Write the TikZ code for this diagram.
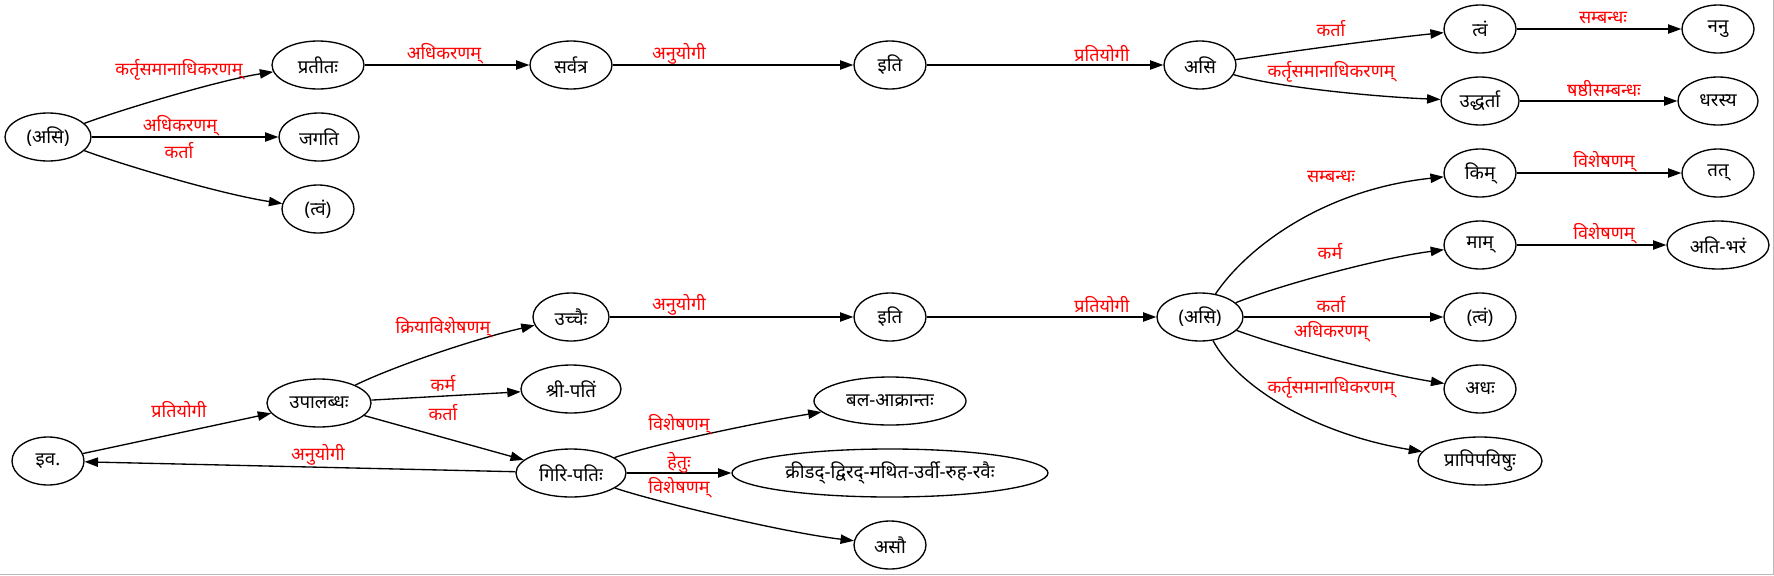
\documentclass[tikz,border=0pt]{standalone}
\usepackage{fontspec}
\newfontfamily\deva[Script=Devanagari]{Noto Sans}
\usetikzlibrary{arrows.meta,shapes.geometric}
\tikzset{
  nd/.style={draw, ellipse, line width=1pt, inner sep=0pt, minimum height=36pt,
             minimum width=#1*1.5pt, font=\deva\fontsize{14}{16}\selectfont},
  lb/.style={text=red, inner sep=0pt, font=\deva\fontsize{13.5}{15}\selectfont},
  ed/.style={draw, line width=1pt, -{Triangle[length=10pt,width=7pt]}},
}
\begin{document}
\begin{tikzpicture}[x=0.75pt, y=-0.75pt]
\useasboundingbox (0,0) rectangle (1774,575);
\fill[white] (0,0) rectangle (1774,575);
\draw[gray!55, line width=0.9pt] (0,574.4) -- (1773.4,574.4) -- (1773.4,0);
% ---- nodes ----
\node[nd=43] (asiA) at (48,137) {(असि)};
\node[nd=46] (pratitah) at (318,65) {प्रतीतः};
\node[nd=40] (jagati) at (319,137) {जगति};
\node[nd=36] (tvamA) at (318,209) {(त्वं)};
\node[nd=41] (sarvatra) at (571,65) {सर्वत्र};
\node[nd=36] (itiA) at (890,65) {इति};
\node[nd=36] (asiB) at (1200,65) {असि};
\node[nd=36] (tvam) at (1480,29) {त्वं};
\node[nd=36] (nanu) at (1718,29) {ननु};
\node[nd=39] (uddharta) at (1480,101) {उद्धर्ता};
\node[nd=40] (dharasya) at (1718,101) {धरस्य};
\node[nd=36] (kim) at (1480,173) {किम्};
\node[nd=36] (tat) at (1718,173) {तत्};
\node[nd=36] (mam) at (1480,245) {माम्};
\node[nd=51] (atibharam) at (1718,245) {अति-भरं};
\node[nd=43] (asiC) at (1200,317) {(असि)};
\node[nd=36] (tvamC) at (1480,317) {(त्वं)};
\node[nd=36] (adhah) at (1480,389) {अधः};
\node[nd=62] (prapi) at (1480,461) {प्रापिपयिषुः};
\node[nd=36] (iva) at (48,461) {इव.};
\node[nd=52] (upal) at (319,403) {उपालब्धः};
\node[nd=38] (uccaih) at (571,317) {उच्चैः};
\node[nd=50] (shri) at (571,389) {श्री-पतिं};
\node[nd=55] (giri) at (571,473) {गिरि-पतिः};
\node[nd=36] (itiB) at (890,317) {इति};
\node[nd=76] (bala) at (890,401) {बल-आक्रान्तः};
\node[nd=158] (krid) at (890,473) {क्रीडद्-द्विरद्-मथित-उर्वी-रुह-रवैः};
\node[nd=36] (asau) at (890,545) {असौ};
% ---- edges ----
\path[ed] (asiA) .. controls (120,110) and (220,80) .. (pratitah);
\path[ed] (asiA) -- (jagati);
\path[ed] (asiA) .. controls (120,164) and (220,194) .. (tvamA);
\path[ed] (pratitah) -- (sarvatra);
\path[ed] (sarvatra) -- (itiA);
\path[ed] (itiA) -- (asiB);
\path[ed] (asiB) .. controls (1300,50) and (1390,38) .. (tvam);
\path[ed] (asiB) .. controls (1280,88) and (1380,97) .. (uddharta);
\path[ed] (tvam) -- (nanu);
\path[ed] (uddharta) -- (dharasya);
\path[ed] (kim) -- (tat);
\path[ed] (mam) -- (atibharam);
\path[ed] (asiC) .. controls (1245,250) and (1320,190) .. (kim);
\path[ed] (asiC) .. controls (1280,285) and (1380,258) .. (mam);
\path[ed] (asiC) -- (tvamC);
\path[ed] (asiC) .. controls (1290,350) and (1390,375) .. (adhah);
\path[ed] (asiC) .. controls (1240,390) and (1320,435) .. (prapi);
\path[ed] (iva) -- (upal);
\path[ed] (giri) -- (iva);
\path[ed] (upal) .. controls (390,368) and (470,340) .. (uccaih);
\path[ed] (upal) -- (shri);
\path[ed] (upal) -- (giri);
\path[ed] (uccaih) -- (itiB);
\path[ed] (itiB) -- (asiC);
\path[ed] (giri) .. controls (650,445) and (760,422) .. (bala);
\path[ed] (giri) -- (krid);
\path[ed] (giri) .. controls (650,500) and (780,532) .. (asau);
% ---- labels ----
\node[lb] (l1) at (179,70) {कर्तृसमानाधिकरणम्};
\node[lb] (l2) at (180,126) {अधिकरणम्};
\node[lb] (l3) at (179,151) {कर्ता};
\node[lb] (l4) at (444,54) {अधिकरणम्};
\node[lb] (l5) at (679,54) {अनुयोगी};
\node[lb] (l6) at (1102,54) {प्रतियोगी};
\node[lb] (l7) at (1331,29) {कर्ता};
\node[lb] (l8) at (1331,72) {कर्तृसमानाधिकरणम्};
\node[lb] (l9) at (1603,18) {सम्बन्धः};
\node[lb] (l10) at (1604,89) {षष्ठीसम्बन्धः};
\node[lb] (l11) at (1604,162) {विशेषणम्};
\node[lb] (l12) at (1604,234) {विशेषणम्};
\node[lb] (l13) at (1331,177) {सम्बन्धः};
\node[lb] (l14) at (1330,251) {कर्म};
\node[lb] (l15) at (1331,305) {कर्ता};
\node[lb] (l16) at (1331,332) {अधिकरणम्};
\node[lb] (l17) at (1331,388) {कर्तृसमानाधिकरणम्};
\node[lb] (l18) at (1102,305) {प्रतियोगी};
\node[lb] (l19) at (679,305) {अनुयोगी};
\node[lb] (l20) at (443,328) {क्रियाविशेषणम्};
\node[lb] (l21) at (443,383) {कर्म};
\node[lb] (l22) at (443,413) {कर्ता};
\node[lb] (l23) at (179,410) {प्रतियोगी};
\node[lb] (l24) at (318,455) {अनुयोगी};
\node[lb] (l25) at (679,425) {विशेषणम्};
\node[lb] (l26) at (679,463) {हेतुः};
\node[lb] (l27) at (679,488) {विशेषणम्};
\end{tikzpicture}
\end{document}
